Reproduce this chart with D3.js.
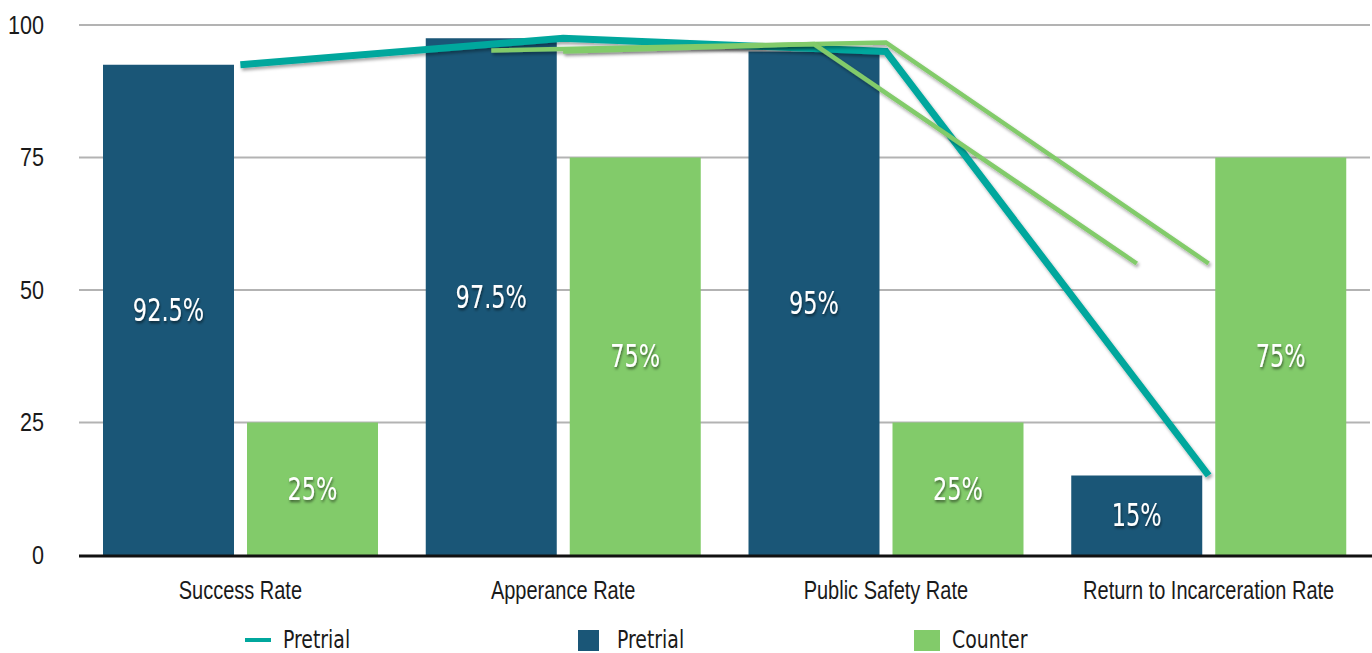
<!DOCTYPE html>
<html>
<head>
<meta charset="utf-8">
<script src="https://cdn.jsdelivr.net/npm/d3@7"></script>
<style>
  html, body { margin: 0; padding: 0; background: #fff; }
  svg { display: block; font-family: "DejaVu Sans Condensed", "Liberation Sans Narrow", sans-serif; }
</style>
</head>
<body>
<svg id="chart" width="1372" height="653"></svg>
<script>
// Outcome rates by category
const categories = ["Success Rate", "Apperance Rate", "Public Safety Rate", "Return to Incarceration Rate"];
const barSeries = ["Pretrial", "Counter"];
const pretrialValues = [92.5, 97.5, 95, 15];
const counterValues = [25, 75, 25, 75];
const pretrialLabels = ["92.5%", "97.5%", "95%", "15%"];
const counterLabels = ["25%", "75%", "25%", "75%"];
const yTicks = [0, 25, 50, 75, 100];

// Pretrial trend line, one point per category centre
const pretrialLine = [92.5, 97.5, 95, 15];

// Counter trend traces: category, anchor ("mid" = category centre, "bar" = Pretrial bar centre), value
const counterTraceA = [
  { cat: "Apperance Rate", anchor: "bar", value: 95.2 },
  { cat: "Public Safety Rate", anchor: "mid", value: 96.7 },
  { cat: "Return to Incarceration Rate", anchor: "mid", value: 55 }
];
const counterTraceB = [
  { cat: "Apperance Rate", anchor: "mid", value: 95 },
  { cat: "Public Safety Rate", anchor: "bar", value: 96.4 },
  { cat: "Return to Incarceration Rate", anchor: "bar", value: 55 }
];

const colors = { Pretrial: "#1a5677", Counter: "#82cb6a", line: "#00a79d" };
const squeeze = 0.8; // horizontal compression for a condensed look

const svg = d3.select("#chart");
const plotLeft = 79, plotRight = 1370, plotTop = 25, plotBottom = 555;

const x = d3.scaleBand().domain(categories).range([plotLeft, plotRight]).padding(0);
const step = x.step();
const x1 = d3.scaleBand().domain(barSeries).range([24, 299]).paddingInner(0.0903).paddingOuter(0);
const y = d3.scaleLinear().domain([0, 100]).range([plotBottom, plotTop]);

const defs = svg.append("defs");
const shadow = defs.append("filter").attr("id", "lineShadow")
  .attr("x", "-10%").attr("y", "-10%").attr("width", "120%").attr("height", "130%");
shadow.append("feDropShadow").attr("dx", 1.5).attr("dy", 2.5).attr("stdDeviation", 1.5)
  .attr("flood-color", "#000").attr("flood-opacity", 0.35);
const textShadow = defs.append("filter").attr("id", "textShadow")
  .attr("x", "-20%").attr("y", "-30%").attr("width", "140%").attr("height", "170%");
textShadow.append("feDropShadow").attr("dx", 1).attr("dy", 2).attr("stdDeviation", 1.6)
  .attr("flood-color", "#000").attr("flood-opacity", 0.55);

// Gridlines
svg.append("g").selectAll("line").data(yTicks.filter(t => t > 0)).join("line")
  .attr("x1", plotLeft).attr("x2", plotRight)
  .attr("y1", d => y(d)).attr("y2", d => y(d))
  .attr("stroke", "#b3b3b3").attr("stroke-width", 2);

// Y axis labels
const yAxis = d3.axisLeft(y).tickValues(yTicks).tickSize(0).tickPadding(0).tickFormat(d3.format("d"));
svg.append("g").attr("transform", "translate(44,0)").call(yAxis)
  .call(g => g.select(".domain").remove())
  .call(g => g.selectAll("text").attr("font-size", 26).attr("fill", "#1a1a1a")
    .attr("font-family", null).attr("transform", `scale(${squeeze + 0.03},1)`));

// Bars
const groups = svg.append("g").selectAll("g").data(categories).join("g")
  .attr("transform", d => `translate(${x(d)},0)`);

const barData = (c, i) => [
  { key: "Pretrial", value: pretrialValues[i], label: pretrialLabels[i] },
  { key: "Counter", value: counterValues[i], label: counterLabels[i] }
];

groups.selectAll("rect").data(barData).join("rect")
  .attr("x", d => x1(d.key)).attr("width", x1.bandwidth())
  .attr("y", d => y(d.value)).attr("height", d => y(0) - y(d.value))
  .attr("fill", d => colors[d.key]);

groups.selectAll("text").data(barData).join("text")
  .attr("transform", d => `translate(${x1(d.key) + x1.bandwidth() / 2},${(y(d.value) + y(0)) / 2}) scale(${squeeze - 0.02},1)`)
  .attr("text-anchor", "middle").attr("dominant-baseline", "central")
  .attr("font-size", 32).attr("fill", "#fff")
  .attr("filter", "url(#textShadow)")
  .text(d => d.label);

// X axis baseline
svg.append("line").attr("x1", plotLeft).attr("x2", 1372)
  .attr("y1", y(0) + 1).attr("y2", y(0) + 1)
  .attr("stroke", "#111").attr("stroke-width", 3);

// X axis labels
const xAxis = d3.axisBottom(x).tickSize(0).tickPadding(0);
svg.append("g").attr("transform", `translate(0,${y(0) + 35})`).call(xAxis)
  .call(g => g.select(".domain").remove())
  .call(g => g.selectAll("text").attr("font-size", 25).attr("fill", "#1a1a1a").attr("dy", "0.35em")
    .attr("font-family", null).attr("transform", `scale(${squeeze},1)`));

// Lines
const barCenter = c => x(c) + x1("Pretrial") + x1.bandwidth() / 2;
const midCenter = c => x(c) + step / 2;

const teal = d3.line()
  .x((d, i) => midCenter(categories[i]))
  .y(d => y(d));
svg.append("path").datum(pretrialLine)
  .attr("d", teal).attr("fill", "none")
  .attr("stroke", colors.line).attr("stroke-width", 7)
  .attr("stroke-linejoin", "miter")
  .attr("filter", "url(#lineShadow)");

const counterLine = d3.line()
  .x(d => d.anchor === "bar" ? barCenter(d.cat) : midCenter(d.cat))
  .y(d => y(d.value));
[counterTraceA, counterTraceB].forEach(trace => {
  svg.append("path").datum(trace)
    .attr("d", counterLine).attr("fill", "none")
    .attr("stroke", colors.Counter).attr("stroke-width", 4.5)
    .attr("stroke-linejoin", "miter")
    .attr("filter", "url(#lineShadow)");
});

// Legend
const legendItems = [
  { label: "Pretrial", kind: "line", color: colors.line, sx: 245, sw: 26, tx: 283 },
  { label: "Pretrial", kind: "rect", color: colors.Pretrial, sx: 578, sw: 21, tx: 617 },
  { label: "Counter", kind: "rect", color: colors.Counter, sx: 914, sw: 26, tx: 952 }
];
const legendY = 640;
const legend = svg.append("g").attr("font-size", 25).attr("fill", "#1a1a1a");
legendItems.forEach(item => {
  if (item.kind === "line") {
    legend.append("line").attr("x1", item.sx).attr("x2", item.sx + item.sw)
      .attr("y1", legendY).attr("y2", legendY)
      .attr("stroke", item.color).attr("stroke-width", 4);
  } else {
    legend.append("rect").attr("x", item.sx).attr("y", legendY - 10)
      .attr("width", item.sw).attr("height", 21).attr("fill", item.color);
  }
  legend.append("text")
    .attr("transform", `translate(${item.tx},648) scale(${squeeze + 0.04},1)`)
    .text(item.label);
});
</script>
</body>
</html>
